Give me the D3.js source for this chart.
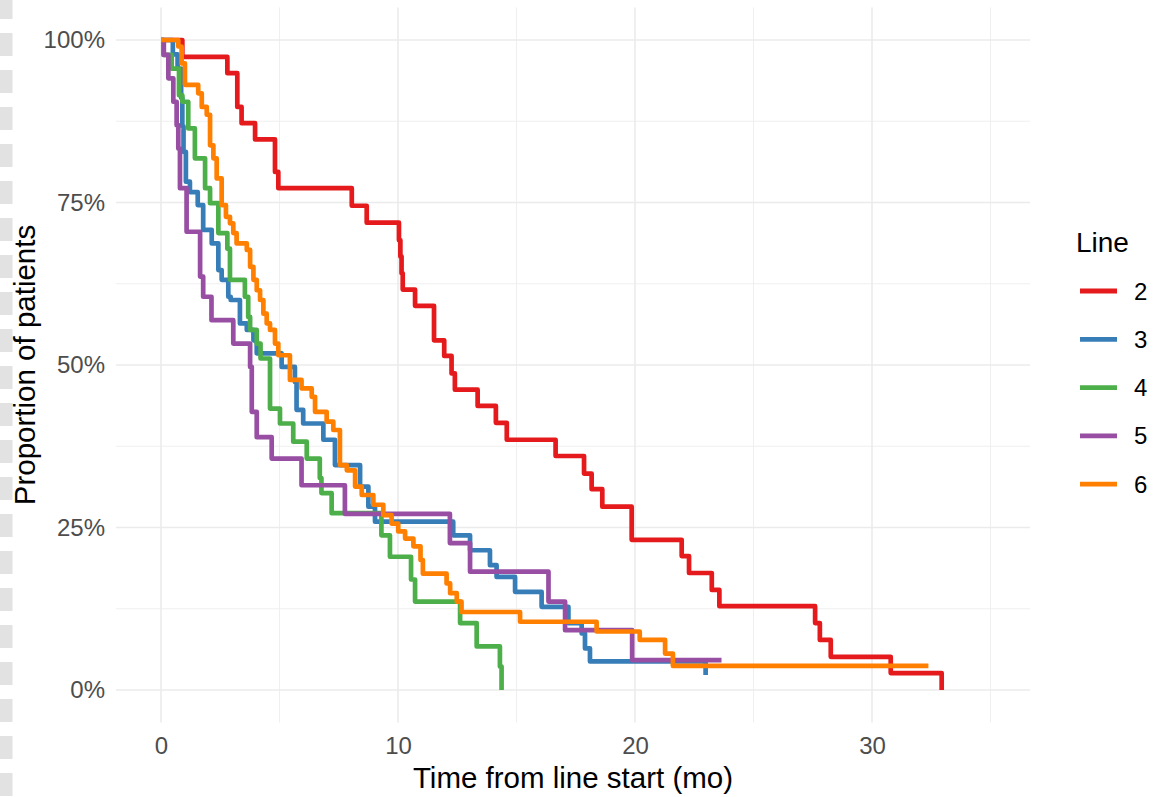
<!DOCTYPE html>
<html>
<head>
<meta charset="utf-8">
<script src="https://cdn.jsdelivr.net/npm/d3@7"></script>
<style>
  html, body { margin: 0; padding: 0; background: #fff; }
  svg { display: block; font-family: 'Liberation Sans', Arial, sans-serif; }
</style>
</head>
<body>
<div id="chart"></div>
<script>
// Survival steps per treatment line: [months, percent still on line]
const line2 = [[0,100],[0.9,97.4],[2.8,94.9],[3.22,89.7],[3.4,87.2],[3.97,84.7],[4.81,79.7],[4.95,77.2],
  [8.05,74.5],[8.68,71.9],[10.04,69.2],[10.1,66.7],[10.15,64.1],[10.2,61.6],[10.72,59.1],[11.52,53.8],
  [11.95,51.4],[12.26,48.7],[12.4,46.2],[13.36,43.7],[14.13,41.1],[14.59,38.5],[16.65,36.0],[17.85,33.3],
  [18.17,30.9],[18.62,28.2],[19.86,23.1],[21.97,20.6],[22.28,18.0],[23.24,15.4],[23.56,12.9],[27.6,10.3],
  [27.8,7.7],[28.26,5.1],[30.79,2.6],[32.94,0]];
const line3 = [[0,100],[0.5,97.8],[0.7,95.6],[0.85,91.1],[0.9,86.7],[0.95,82.8],[1.05,78.2],[1.22,76.6],
  [1.55,74.6],[1.78,70.8],[2.14,68.7],[2.42,64.6],[2.56,63.1],[2.84,60.5],[2.94,60.0],[3.33,56.4],
  [3.62,55.4],[3.9,53.8],[4.04,51.8],[5.09,49.7],[5.65,47.4],[5.72,43.1],[6.0,41.0],[6.85,38.5],
  [7.34,34.6],[8.4,31.3],[8.75,28.2],[9.03,25.9],[12.33,23.8],[13.04,21.5],[13.88,19.2],[14.16,17.4],
  [14.94,15.1],[16.06,12.8],[17.19,10.3],[17.75,8.7],[17.89,6.4],[18.1,4.4],[22.98,2.3]];
const line4 = [[0,100],[0.1,97.7],[0.45,95.6],[0.76,91.5],[0.9,90.5],[1.15,86.4],[1.43,81.8],[1.86,77.2],
  [2.07,74.9],[2.42,70.3],[2.8,67.9],[2.91,63.1],[3.54,60.5],[3.68,57.4],[3.76,55.4],[4.04,53.3],
  [4.2,51.0],[4.6,43.3],[5.02,41.0],[5.58,38.2],[6.15,35.6],[6.7,32.6],[6.77,30.3],[7.2,27.2],
  [9.3,23.8],[9.66,20.5],[10.55,17.0],[10.72,13.6],[12.62,10.3],[13.32,6.7],[14.3,3.6],[14.37,0]];
const line5 = [[0,100],[0.12,97.7],[0.31,94.1],[0.52,90.5],[0.66,86.9],[0.73,83.3],[0.8,77.2],[1.08,70.5],
  [1.65,63.6],[1.78,60.5],[2.13,56.9],[3.05,53.3],[3.76,49.7],[3.83,42.8],[4.04,38.9],[4.67,35.6],
  [5.93,31.5],[7.76,27.1],[12.19,22.6],[13.04,18.2],[16.35,13.6],[17.05,9.2],[19.88,4.6],[23.65,4.6]];
const line6 = [[0,100],[0.73,99.0],[0.87,96.4],[1.01,93.1],[1.57,91.8],[1.72,89.7],[1.93,88.5],[2.07,83.8],
  [2.21,81.8],[2.35,78.7],[2.56,74.6],[2.74,72.8],[2.91,71.8],[3.05,70.3],[3.19,68.7],[3.62,67.7],
  [3.76,65.1],[3.9,63.1],[4.04,61.5],[4.18,60.0],[4.32,57.9],[4.46,56.4],[4.6,55.4],[4.81,53.3],
  [4.95,51.5],[5.44,47.7],[5.93,46.4],[6.36,45.1],[6.5,42.8],[6.99,41.3],[7.27,40.0],[7.55,34.6],
  [7.84,33.8],[8.19,31.3],[8.47,30.0],[8.96,28.5],[9.38,26.9],[9.73,25.6],[10.01,24.4],[10.3,23.3],
  [10.65,22.1],[10.95,20.0],[11.05,17.9],[12.05,16.4],[12.2,14.9],[12.48,13.6],[12.68,12.0],
  [15.15,10.5],[18.38,9.0],[20.2,7.7],[21.27,5.6],[21.6,3.7],[32.38,3.7]];

const lineNames  = ['2', '3', '4', '5', '6'];
const lineSeries = [line2, line3, line4, line5, line6];
const xTicks      = [0, 10, 20, 30];
const xMinorTicks = [5, 15, 25, 35];
const yTicks      = [0, 25, 50, 75, 100];
const yMinorTicks = [12.5, 37.5, 62.5, 87.5];

const palette = ['#E41A1C', '#377EB8', '#4DAF4A', '#984EA3', '#FF7F00'];

const W = 1155, H = 797;
const panel = { left: 116, right: 1030, top: 7.5, bottom: 722.5 };
const fontFamily = "'Liberation Sans', Arial, sans-serif";

const svg = d3.select('#chart').append('svg')
    .attr('width', W).attr('height', H);

// faint dashed strip on the far left edge
svg.append('line')
    .attr('x1', 6).attr('x2', 6).attr('y1', -4).attr('y2', H)
    .attr('stroke', '#e2e2e2').attr('stroke-width', 13)
    .attr('stroke-dasharray', '23 14');

const x = d3.scaleLinear().domain([-45 / 23.7, 869 / 23.7]).range([panel.left, panel.right]);
const y = d3.scaleLinear().domain([-5, 105]).range([panel.bottom, panel.top]);

const grid = svg.append('g');
yMinorTicks.forEach(v => grid.append('line')
    .attr('x1', panel.left).attr('x2', panel.right).attr('y1', y(v)).attr('y2', y(v))
    .attr('stroke', '#ededed').attr('stroke-width', 0.9));
xMinorTicks.forEach(v => grid.append('line')
    .attr('x1', x(v)).attr('x2', x(v)).attr('y1', panel.top).attr('y2', panel.bottom)
    .attr('stroke', '#ededed').attr('stroke-width', 0.9));
yTicks.forEach(v => grid.append('line')
    .attr('x1', panel.left).attr('x2', panel.right).attr('y1', y(v)).attr('y2', y(v))
    .attr('stroke', '#ebebeb').attr('stroke-width', 1.6));
xTicks.forEach(v => grid.append('line')
    .attr('x1', x(v)).attr('x2', x(v)).attr('y1', panel.top).attr('y2', panel.bottom)
    .attr('stroke', '#ebebeb').attr('stroke-width', 1.6));

// axes (ggplot minimal: labels only)
const xAxis = svg.append('g')
    .attr('transform', `translate(0,${panel.bottom})`)
    .call(d3.axisBottom(x).tickValues(xTicks).tickSize(0).tickPadding(14));
const yAxis = svg.append('g')
    .attr('transform', `translate(${panel.left},0)`)
    .call(d3.axisLeft(y).tickValues(yTicks).tickFormat(d => `${d}%`).tickSize(0).tickPadding(11));
[xAxis, yAxis].forEach(a => {
    a.select('.domain').remove();
    a.selectAll('text')
        .style('font-family', fontFamily)
        .style('font-size', '24px').style('fill', '#4d4d4d');
});

svg.append('text')
    .attr('x', (panel.left + panel.right) / 2).attr('y', 788)
    .attr('text-anchor', 'middle')
    .style('font-size', '29.5px').style('fill', '#000')
    .text('Time from line start (mo)');

svg.append('text')
    .attr('transform', `translate(35,${(panel.top + panel.bottom) / 2}) rotate(-90)`)
    .attr('text-anchor', 'middle')
    .style('font-size', '29.5px').style('fill', '#000')
    .text('Proportion of patients');

// step curves
const stepLine = d3.line()
    .x(d => x(d[0])).y(d => y(d[1]))
    .curve(d3.curveStepAfter);

const curves = svg.append('g');
lineSeries.forEach((series, i) => {
    curves.append('path')
        .datum(series)
        .attr('d', stepLine)
        .attr('fill', 'none')
        .attr('stroke', palette[i])
        .attr('stroke-width', 4.7)
        .attr('stroke-linejoin', 'round')
        .attr('stroke-linecap', 'butt');
});

// legend
const legend = svg.append('g');
legend.append('text')
    .attr('x', 1076).attr('y', 252)
    .style('font-size', '28px').style('fill', '#000')
    .text('Line');

lineNames.forEach((name, i) => {
    const ly = 291 + i * 48.3;
    legend.append('line')
        .attr('x1', 1080).attr('x2', 1117).attr('y1', ly).attr('y2', ly)
        .attr('stroke', palette[i]).attr('stroke-width', 4.8);
    legend.append('text')
        .attr('x', 1134).attr('y', ly + 8.5)
        .style('font-size', '24px').style('fill', '#000')
        .text(name);
});
</script>
</body>
</html>
